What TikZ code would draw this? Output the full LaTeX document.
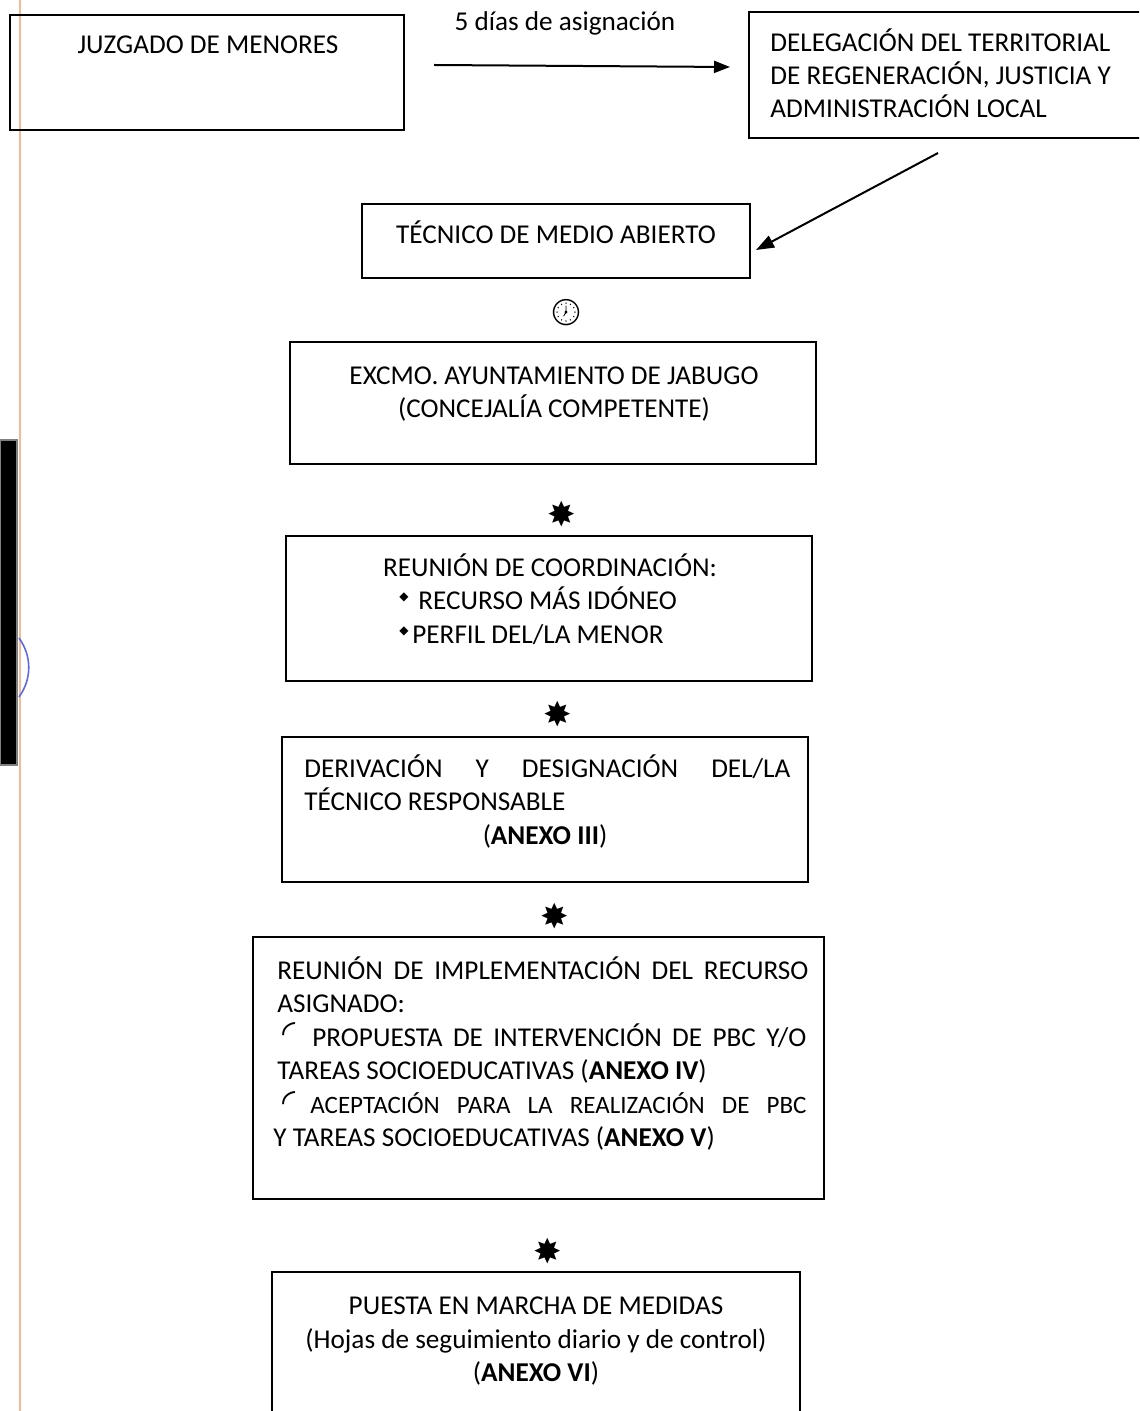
\documentclass[tikz,border=0pt]{standalone}
\usepackage{fontspec}
\setmainfont{Carlito}
\newfontfamily\symfont{DejaVu Sans}
\newfontfamily\emojifont{Noto Emoji}
\usetikzlibrary{arrows.meta}
\definecolor{margin}{RGB}{246,185,150}
\definecolor{arcblue}{RGB}{95,105,225}
\begin{document}
\begin{tikzpicture}[x=0.5pt,y=-0.5pt,
  box/.style={draw, line width=1pt, inner sep=0pt},
  txt/.style={font=\fontsize{13.6}{16.5}\selectfont, inner sep=0pt, anchor=base},
  txl/.style={txt, anchor=base west},
  arr/.style={line width=1pt, -{Triangle[length=8pt,width=6pt]}},
  sym/.style={font=\symfont\fontsize{17}{17}\selectfont, inner sep=0pt},
  bul/.style={font=\symfont\fontsize{6}{6}\selectfont, inner sep=0pt},
  arcsym/.style={font=\symfont\fontsize{17}{17}\selectfont, inner sep=0pt, text height=5pt, text depth=0pt}]
\useasboundingbox (0,0) rectangle (1139,1411);
\clip (0,0) rectangle (1139,1411);
\fill[white] (0,0) rectangle (1139,1411);

% margin decorations
\draw[margin, line width=0.9pt] (20,0) -- (20,1411);
\fill[black] (0,440) rectangle (17,765);
\draw[gray, line width=0.8pt] (0,440) rectangle (17,765);
\draw[arcblue, line width=0.8pt] (19,638) .. controls (32,656) and (32,679) .. (19,697);

% boxes
\node[box, minimum width=197pt, minimum height=57.5pt] (juz) at (207,72.5) {};
\node[box, minimum width=198pt, minimum height=63pt] (del) at (947,75) {};
\node[box, minimum width=194pt, minimum height=37pt] (tec) at (556,241) {};
\node[box, minimum width=263pt, minimum height=61pt] (exc) at (553,403) {};
\node[box, minimum width=263pt, minimum height=72.5pt] (reu) at (549,608.5) {};
\node[box, minimum width=263pt, minimum height=72.5pt] (der) at (545,809.5) {};
\node[box, minimum width=285.5pt, minimum height=131pt] (imp) at (538.5,1068) {};
\node[box, minimum width=264pt, minimum height=74pt] (pue) at (536,1346) {};

% texts
\node[txt] (tjuz) at (208,54) {JUZGADO DE MENORES};
\node[txl] (tdel1) at (770,52) {DELEGACIÓN DEL TERRITORIAL};
\node[txl] (tdel2) at (770,85) {DE REGENERACIÓN, JUSTICIA Y};
\node[txl] (tdel3) at (770,118) {ADMINISTRACIÓN LOCAL};
\node[txt] (lab) at (565,31) {5 días de asignación};
\node[txt] (ttec) at (556,244) {TÉCNICO DE MEDIO ABIERTO};
\node[txt] (texc1) at (554,385) {EXCMO. AYUNTAMIENTO DE JABUGO};
\node[txt] (texc2) at (554,417) {(CONCEJALÍA COMPETENTE)};
\node[txt] (treu1) at (550,576) {REUNIÓN DE COORDINACIÓN:};
\node[bul] (b1) at (404,597) {◆};
\node[txl] (treu2) at (418,609) {RECURSO MÁS IDÓNEO};
\node[bul] (b2) at (404,631) {◆};
\node[txl] (treu3) at (412,643) {PERFIL DEL/LA MENOR};
\node[txl] (tder1) at (304,777) {\makebox[243pt][s]{DERIVACIÓN\hfill Y\hfill DESIGNACIÓN\hfill DEL/LA}};
\node[txl] (tder2) at (304,810) {TÉCNICO RESPONSABLE};
\node[txt] (tder3) at (545,844) {(\textbf{ANEXO III})};
\node[txl] (timp1) at (277,979) {\makebox[265.5pt][s]{REUNIÓN\hfill DE\hfill IMPLEMENTACIÓN\hfill DEL\hfill RECURSO}};
\node[txl] (timp2) at (277,1012) {ASIGNADO:};
\node[arcsym, anchor=base] (c1) at (289,1044) {◜};
\node[txl] (timp3) at (312,1046) {\makebox[247pt][s]{PROPUESTA\hfill DE\hfill INTERVENCIÓN\hfill DE\hfill PBC\hfill Y/O}};
\node[txl] (timp4) at (277,1079) {TAREAS SOCIOEDUCATIVAS (\textbf{ANEXO IV})};
\node[arcsym, anchor=base] (c2) at (289,1113) {◜};
\node[txl] (timp5) at (310,1113) {\makebox[248pt][s]{\fontsize{12.5}{15}\selectfont ACEPTACIÓN\hfill PARA\hfill LA\hfill REALIZACIÓN\hfill DE\hfill PBC}};
\node[txl] (timp6) at (273,1146) {Y TAREAS SOCIOEDUCATIVAS (\textbf{ANEXO V})};
\node[txt] (tpue1) at (536,1314) {PUESTA EN MARCHA DE MEDIDAS};
\node[txt] (tpue2) at (536,1348) {(Hojas de seguimiento diario y de control)};
\node[txt] (tpue3) at (536,1381) {(\textbf{ANEXO VI})};

% symbols between boxes
\node[font=\emojifont\fontsize{13}{13}\selectfont, inner sep=0pt] (clk) at (566,313) {🕖};
\node[sym] (s1) at (562,514) {✸};
\node[sym] (s2) at (558,714) {✸};
\node[sym] (s3) at (555,916) {✸};
\node[sym] (s4) at (548,1251) {✸};

% connectors
\draw[arr] ([shift={(29,-7.5)}]juz.east) -- ([shift={(-18,-8)}]del.west);
\draw[arr, -{Triangle[length=9pt,width=6.5pt]}] ([shift={(-9,14)}]del.south) -- ([shift={(5,9)}]tec.east);
\end{tikzpicture}
\end{document}
